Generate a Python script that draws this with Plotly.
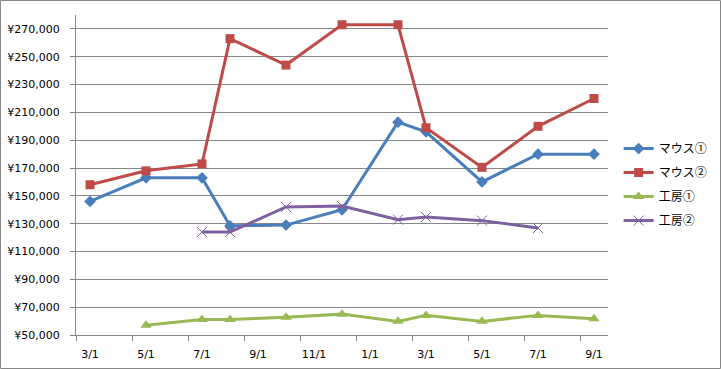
import plotly.graph_objects as go

# Month slots on the axis (19 months, 3/1 of year 1 through 9/1 of year 2)
months = ["3/1", "4/1", "5/1", "6/1", "7/1", "8/1", "9/1", "10/1", "11/1", "12/1",
          "1/1", "2/1", "3/1b", "4/1b", "5/1b", "6/1b", "7/1b", "8/1b", "9/1b"]
tick_months = ["3/1", "5/1", "7/1", "9/1", "11/1", "1/1", "3/1b", "5/1b", "7/1b", "9/1b"]
tick_text = ["3/1", "5/1", "7/1", "9/1", "11/1", "1/1", "3/1", "5/1", "7/1", "9/1"]

mouse1_x = ["3/1", "5/1", "7/1", "8/1", "10/1", "12/1", "2/1", "3/1b", "5/1b", "7/1b", "9/1b"]
mouse1_y = [146000, 163000, 163000, 128500, 129000, 140000, 203000, 196000, 160000, 180000, 180000]

mouse2_x = ["3/1", "5/1", "7/1", "8/1", "10/1", "12/1", "2/1", "3/1b", "5/1b", "7/1b", "9/1b"]
mouse2_y = [158000, 168000, 173000, 263000, 244000, 273000, 273000, 199000, 170500, 200000, 220000]

kobo1_x = ["5/1", "7/1", "8/1", "10/1", "12/1", "2/1", "3/1b", "5/1b", "7/1b", "9/1b"]
kobo1_y = [57000, 61200, 61200, 62700, 65000, 59800, 64100, 59800, 64100, 61700]

kobo2_x = ["7/1", "8/1", "10/1", "12/1", "2/1", "3/1b", "5/1b", "7/1b"]
kobo2_y = [124000, 124000, 142000, 142700, 132900, 134800, 132200, 126900]

y_ticks = list(range(50000, 280000, 20000))

def idx(lst):
    return [months.index(m) for m in lst]

fig = go.Figure()
series = [
    ("マウス①", mouse1_x, mouse1_y, "#4A7EBB", dict(symbol="diamond", size=9)),
    ("マウス②", mouse2_x, mouse2_y, "#BE4B48", dict(symbol="square", size=9)),
    ("工房①", kobo1_x, kobo1_y, "#98B954", dict(symbol="triangle-up", size=10)),
    ("工房②", kobo2_x, kobo2_y, "#7D60A0", dict(symbol="x-thin", size=10, line=dict(width=1, color="#7D60A0"))),
]
for i, (name, xs, ys, col, mk) in enumerate(series):
    mk = dict(mk)
    mk["color"] = col
    fig.add_trace(go.Scatter(
        x=idx(xs), y=ys, name=name, mode="lines+markers",
        line=dict(color=col, width=3), marker=mk, legendgroup=str(i),
    ))

n = len(months)
fig.update_layout(
    width=721, height=369,
    margin=dict(l=76, r=113, t=15, b=34, autoexpand=False),
    paper_bgcolor="white", plot_bgcolor="white",
    font=dict(family="DejaVu Sans", size=11, color="#000000"),
    showlegend=True,
    legend=dict(x=1.02, xanchor="left", y=0.47, yanchor="middle",
                font=dict(family="Noto Sans CJK JP", size=12, color="#000000"),
                tracegroupgap=5, itemwidth=30, traceorder="grouped",
                bgcolor="rgba(0,0,0,0)"),
    xaxis=dict(range=[-0.5, n - 0.5], tickmode="array",
               tickvals=idx(tick_months), ticktext=tick_text,
               ticks="outside", ticklen=9, tickcolor="rgba(0,0,0,0)",
               automargin=False,
               showgrid=False, zeroline=False,
               showline=True, linecolor="#868686", linewidth=1,
               minor=dict(tickmode="array",
                          tickvals=[v - 0.5 for v in idx(tick_months)],
                          ticks="outside", ticklen=5, tickcolor="#868686",
                          showgrid=False),
               tickfont=dict(family="DejaVu Sans", size=11)),
    yaxis=dict(range=[50000, 280000], tickmode="array", tickvals=y_ticks,
               ticktext=["¥{:,}".format(v) for v in y_ticks],
               ticks="outside", ticklen=5, tickcolor="#868686",
               ticklabelstandoff=8, automargin=False,
               showgrid=True, gridcolor="#868686", gridwidth=1,
               zeroline=False, showline=True, linecolor="#868686", linewidth=1,
               tickfont=dict(family="DejaVu Sans", size=11)),
    shapes=[dict(type="rect", xref="paper", yref="paper",
                 x0=-75.5 / 532, x1=644.5 / 532,
                 y0=-33.5 / 320, y1=334.5 / 320,
                 line=dict(color="#868686", width=1), fillcolor="rgba(0,0,0,0)",
                 layer="below")],
)

fig.write_html("out.html", config={"displayModeBar": False},
               post_script="document.body.style.margin='0';document.body.style.overflow='hidden';")
